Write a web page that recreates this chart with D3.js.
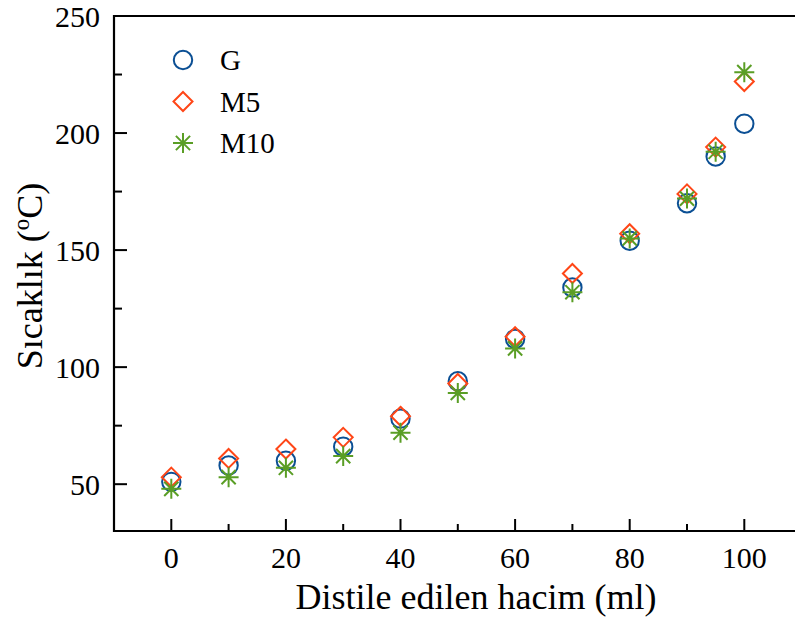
<!DOCTYPE html>
<html><head><meta charset="utf-8">
<script src="https://cdn.jsdelivr.net/npm/d3@7"></script>
<style>body{margin:0;background:#fff}svg{display:block}svg text{font-family:"Liberation Serif","Times New Roman",serif}</style>
</head><body>
<svg id="c" width="795" height="619"></svg>
<script>
const volumes = [0, 10, 20, 30, 40, 50, 60, 70, 80, 90, 95, 100];
const seriesG = [51, 58, 60, 66, 78, 94, 112, 134, 154, 170, 190, 204];
const seriesM5 = [53, 61, 65, 70, 79, 93, 113, 140, 157, 174, 194, 222];
const seriesM10 = [48, 53, 57, 62, 72, 89, 108, 132, 155, 172, 192, 226];
const seriesNames = ["G", "M5", "M10"];
const xTicks = [0, 20, 40, 60, 80, 100];
const xMinor = [10, 30, 50, 70, 90];
const yTicks = [50, 100, 150, 200, 250];
const yMinor = [75, 125, 175, 225];

const colors = {G: "#0b4f94", M5: "#ff4617", M10: "#5a9e25"};
const svg = d3.select("#c");
const L = 114, T = 16, B = 531;
const x = d3.scaleLinear().domain([-10, 110]).range([L, L + 120 * 5.73]);
const y = d3.scaleLinear().domain([30, 250]).range([B, T]);

// frame lines
svg.append("line").attr("x1", L).attr("x2", L).attr("y1", T - 1).attr("y2", B + 1)
  .attr("stroke", "#000").attr("stroke-width", 2.2);
svg.append("line").attr("x1", L - 1).attr("x2", 800).attr("y1", B).attr("y2", B)
  .attr("stroke", "#000").attr("stroke-width", 2.2);
svg.append("line").attr("x1", L - 1).attr("x2", 800).attr("y1", T).attr("y2", T)
  .attr("stroke", "#000").attr("stroke-width", 2.2);

// ticks
const tk = svg.append("g").attr("stroke", "#000").attr("stroke-width", 2);
xTicks.forEach(v => tk.append("line").attr("x1", x(v)).attr("x2", x(v)).attr("y1", B).attr("y2", B - 12));
xMinor.forEach(v => tk.append("line").attr("x1", x(v)).attr("x2", x(v)).attr("y1", B).attr("y2", B - 7));
yTicks.forEach(v => tk.append("line").attr("x1", L).attr("x2", L + 13).attr("y1", y(v)).attr("y2", y(v)));
yMinor.forEach(v => tk.append("line").attr("x1", L).attr("x2", L + 8).attr("y1", y(v)).attr("y2", y(v)));

// tick labels
svg.append("g").selectAll("text").data(xTicks).join("text")
  .attr("x", d => x(d)).attr("y", 568).attr("text-anchor", "middle")
  .style("font-size", "30px").text(d => d);
svg.append("g").selectAll("text").data(yTicks).join("text")
  .attr("x", 100).attr("y", d => y(d) + 10.5).attr("text-anchor", "end")
  .style("font-size", "30px").text(d => d);

// axis titles
svg.append("text").attr("x", 476).attr("y", 609).attr("text-anchor", "middle")
  .style("font-size", "36px").text("Distile edilen hacim (ml)");
const yl = svg.append("text").attr("transform", "translate(42,276) rotate(-90)")
  .attr("text-anchor", "middle").style("font-size", "36px");
yl.append("tspan").text("Sıcaklık (");
yl.append("tspan").style("font-size", "23px").attr("dy", -13).text("o");
yl.append("tspan").attr("dy", 13).text("C)");

// marker drawers
function circle(g, cx, cy, c) {
  g.append("circle").attr("cx", cx).attr("cy", cy).attr("r", 9.2)
    .attr("fill", "none").attr("stroke", c).attr("stroke-width", 2);
}
function diamond(g, cx, cy, c) {
  const s = 9.5;
  g.append("path").attr("d", `M${cx},${cy - s}L${cx + s},${cy}L${cx},${cy + s}L${cx - s},${cy}Z`)
    .attr("fill", "none").attr("stroke", c).attr("stroke-width", 2);
}
function star(g, cx, cy, c) {
  const s = 10, d = 7.1;
  g.append("path").attr("d",
    `M${cx - s},${cy}L${cx + s},${cy}M${cx},${cy - s}L${cx},${cy + s}` +
    `M${cx - d},${cy - d}L${cx + d},${cy + d}M${cx - d},${cy + d}L${cx + d},${cy - d}`)
    .attr("fill", "none").attr("stroke", c).attr("stroke-width", 2);
}

const pts = svg.append("g");
volumes.forEach((v, i) => circle(pts, x(v), y(seriesG[i]), colors.G));
volumes.forEach((v, i) => diamond(pts, x(v), y(seriesM5[i]), colors.M5));
volumes.forEach((v, i) => star(pts, x(v), y(seriesM10[i]), colors.M10));

// legend
const lg = svg.append("g");
const drawers = [circle, diamond, star];
seriesNames.forEach((n, i) => {
  const ly = 60 + i * 41.5;
  drawers[i](lg, 183, ly, colors[n]);
  lg.append("text").attr("x", 220).attr("y", ly + 10)
    .style("font-size", "29px").text(n);
});
</script>
</body></html>
